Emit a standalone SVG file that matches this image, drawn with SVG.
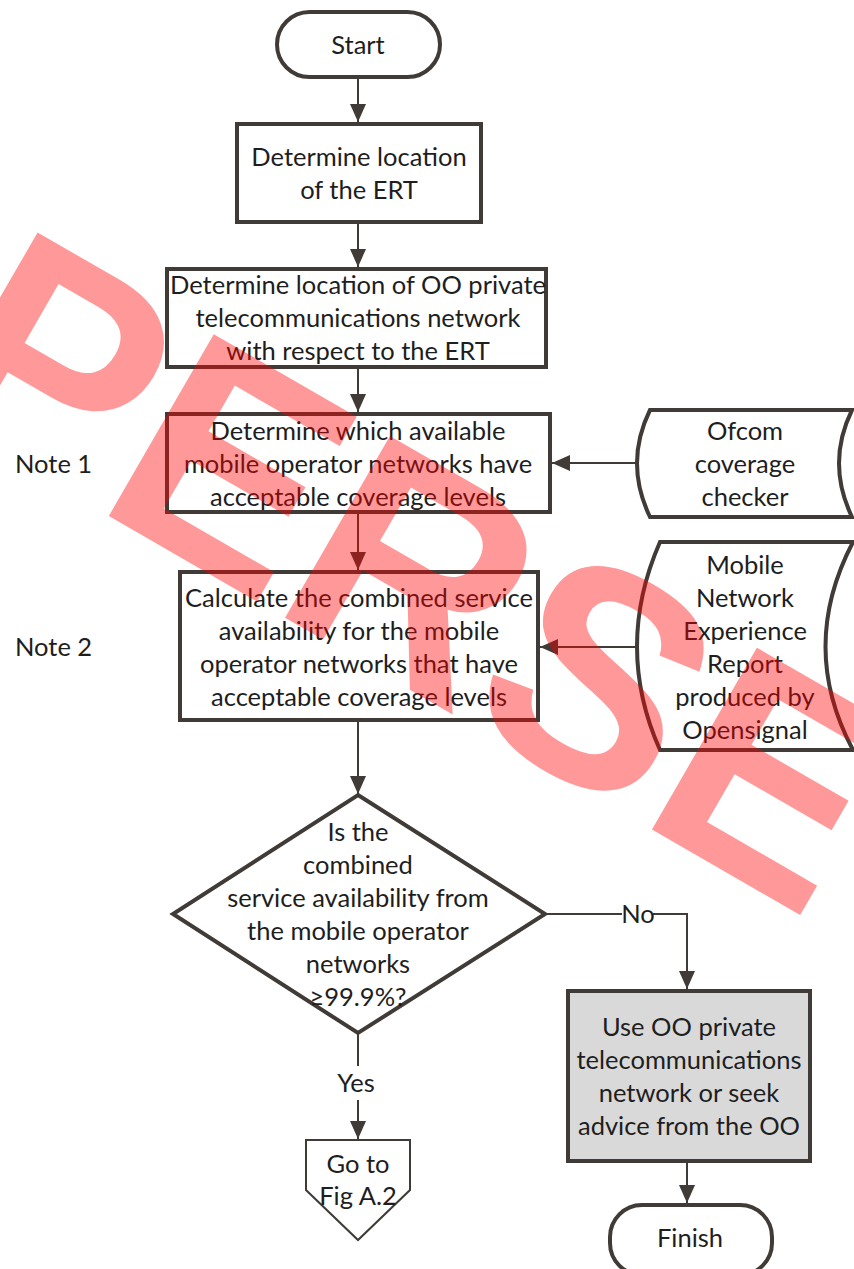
<svg xmlns="http://www.w3.org/2000/svg" width="854" height="1269" viewBox="0 0 854 1269">
<defs>
<style>
.n{fill:#fff;stroke:#403b37;stroke-width:4}
.g{fill:#d9d9d9;stroke:#403b37;stroke-width:4}
.c{fill:none;stroke:#403b37;stroke-width:2}
.t{font-family:Lato,"Liberation Sans",sans-serif;font-size:25.5px;fill:#1e1e1e;text-anchor:middle}
.l{font-family:Lato,"Liberation Sans",sans-serif;font-size:25.5px;fill:#1e1e1e}
.wm{font-family:"Liberation Sans",Arial,sans-serif;font-weight:bold;font-size:305px;fill:#ff0000;opacity:0.4}
</style>
<marker id="ah" markerUnits="userSpaceOnUse" markerWidth="18" markerHeight="16" refX="18" refY="8" orient="auto">
<path d="M0,0 L18,8 L0,16 Z" fill="#403b37"/>
</marker>
</defs>
<rect width="854" height="1269" fill="#fff"/>
<g id="connectors">
<line class="c" x1="358" y1="77" x2="358" y2="122" marker-end="url(#ah)"/>
<line class="c" x1="358" y1="222" x2="358" y2="267" marker-end="url(#ah)"/>
<line class="c" x1="358" y1="367" x2="358" y2="412" marker-end="url(#ah)"/>
<line class="c" x1="358" y1="512" x2="358" y2="570" marker-end="url(#ah)"/>
<line class="c" x1="358" y1="720" x2="358" y2="794" marker-end="url(#ah)"/>
<line class="c" x1="637" y1="463" x2="552" y2="463" marker-end="url(#ah)"/>
<line class="c" x1="637" y1="647" x2="540" y2="647" marker-end="url(#ah)"/>
<path class="c" d="M545,914 H622 M653,914 H687 V989" marker-end="url(#ah)"/>
<text class="t" x="638" y="923">No</text>
<line class="c" x1="358" y1="1033" x2="358" y2="1066"/>
<text class="t" x="356" y="1092">Yes</text>
<line class="c" x1="358" y1="1100" x2="358" y2="1139" marker-end="url(#ah)"/>
<line class="c" x1="687" y1="1161" x2="687" y2="1203" marker-end="url(#ah)"/>
</g>
<g id="start"><rect class="n" x="277" y="12" width="163" height="65" rx="32.5"/><text class="t" x="358" y="54">Start</text></g>
<g id="box1"><rect class="n" x="237" y="124" width="244" height="98"/><text class="t" x="359" y="166">Determine location</text><text class="t" x="359" y="199">of the ERT</text></g>
<g id="box2"><rect class="n" x="167" y="269" width="379" height="98"/><text class="t" x="358" y="294">Determine location of OO private</text><text class="t" x="358" y="327">telecommunications network</text><text class="t" x="358" y="360">with respect to the ERT</text></g>
<g id="box3"><rect class="n" x="167" y="414" width="383" height="98"/><text class="t" x="358" y="440">Determine which available</text><text class="t" x="358" y="473">mobile operator networks have</text><text class="t" x="358" y="506">acceptable coverage levels</text></g>
<g id="ofcom"><path class="n" d="M650,410 H852 Q826,463 852,517 H650 Q624,463 650,410 Z"/><text class="t" x="745" y="440">Ofcom</text><text class="t" x="745" y="473">coverage</text><text class="t" x="745" y="506">checker</text></g>
<g id="note1"><text class="l" x="15" y="473">Note 1</text></g>
<g id="box4"><rect class="n" x="180" y="572" width="358" height="148"/><text class="t" x="359" y="607">Calculate the combined service</text><text class="t" x="359" y="640">availability for the mobile</text><text class="t" x="359" y="673">operator networks that have</text><text class="t" x="359" y="706">acceptable coverage levels</text></g>
<g id="mner"><path class="n" d="M660,542 H853 Q798,647 853,750 H660 Q614,647 660,542 Z"/><text class="t" x="745" y="574">Mobile</text><text class="t" x="745" y="607">Network</text><text class="t" x="745" y="640">Experience</text><text class="t" x="745" y="673">Report</text><text class="t" x="745" y="706">produced by</text><text class="t" x="745" y="739">Opensignal</text></g>
<g id="note2"><text class="l" x="15" y="656">Note 2</text></g>
<g id="decision"><path class="n" d="M358,795 L545,914 L358,1033 L173,914 Z"/><text class="t" x="358" y="841">Is the</text><text class="t" x="358" y="874">combined</text><text class="t" x="358" y="907">service availability from</text><text class="t" x="358" y="940">the mobile operator</text><text class="t" x="358" y="973">networks</text><text class="t" x="358" y="1006">≥99.9%?</text></g>
<g id="goto"><path d="M306,1140 H410 V1190 L358,1240 L306,1190 Z" fill="#fff" stroke="#403b37" stroke-width="2"/><text class="t" x="358" y="1173">Go to</text><text class="t" x="358" y="1205">Fig A.2</text></g>
<g id="box5"><rect class="g" x="568" y="991" width="242" height="170"/><text class="t" x="689" y="1036">Use OO private</text><text class="t" x="689" y="1069">telecommunications</text><text class="t" x="689" y="1102">network or seek</text><text class="t" x="689" y="1135">advice from the OO</text></g>
<g id="finish"><rect class="n" x="610" y="1205" width="162" height="70" rx="32"/><text class="t" x="690" y="1247">Finish</text></g>
<g id="watermark"><text class="wm" transform="translate(-85,404) rotate(30)">PERSE</text></g>
</svg>
